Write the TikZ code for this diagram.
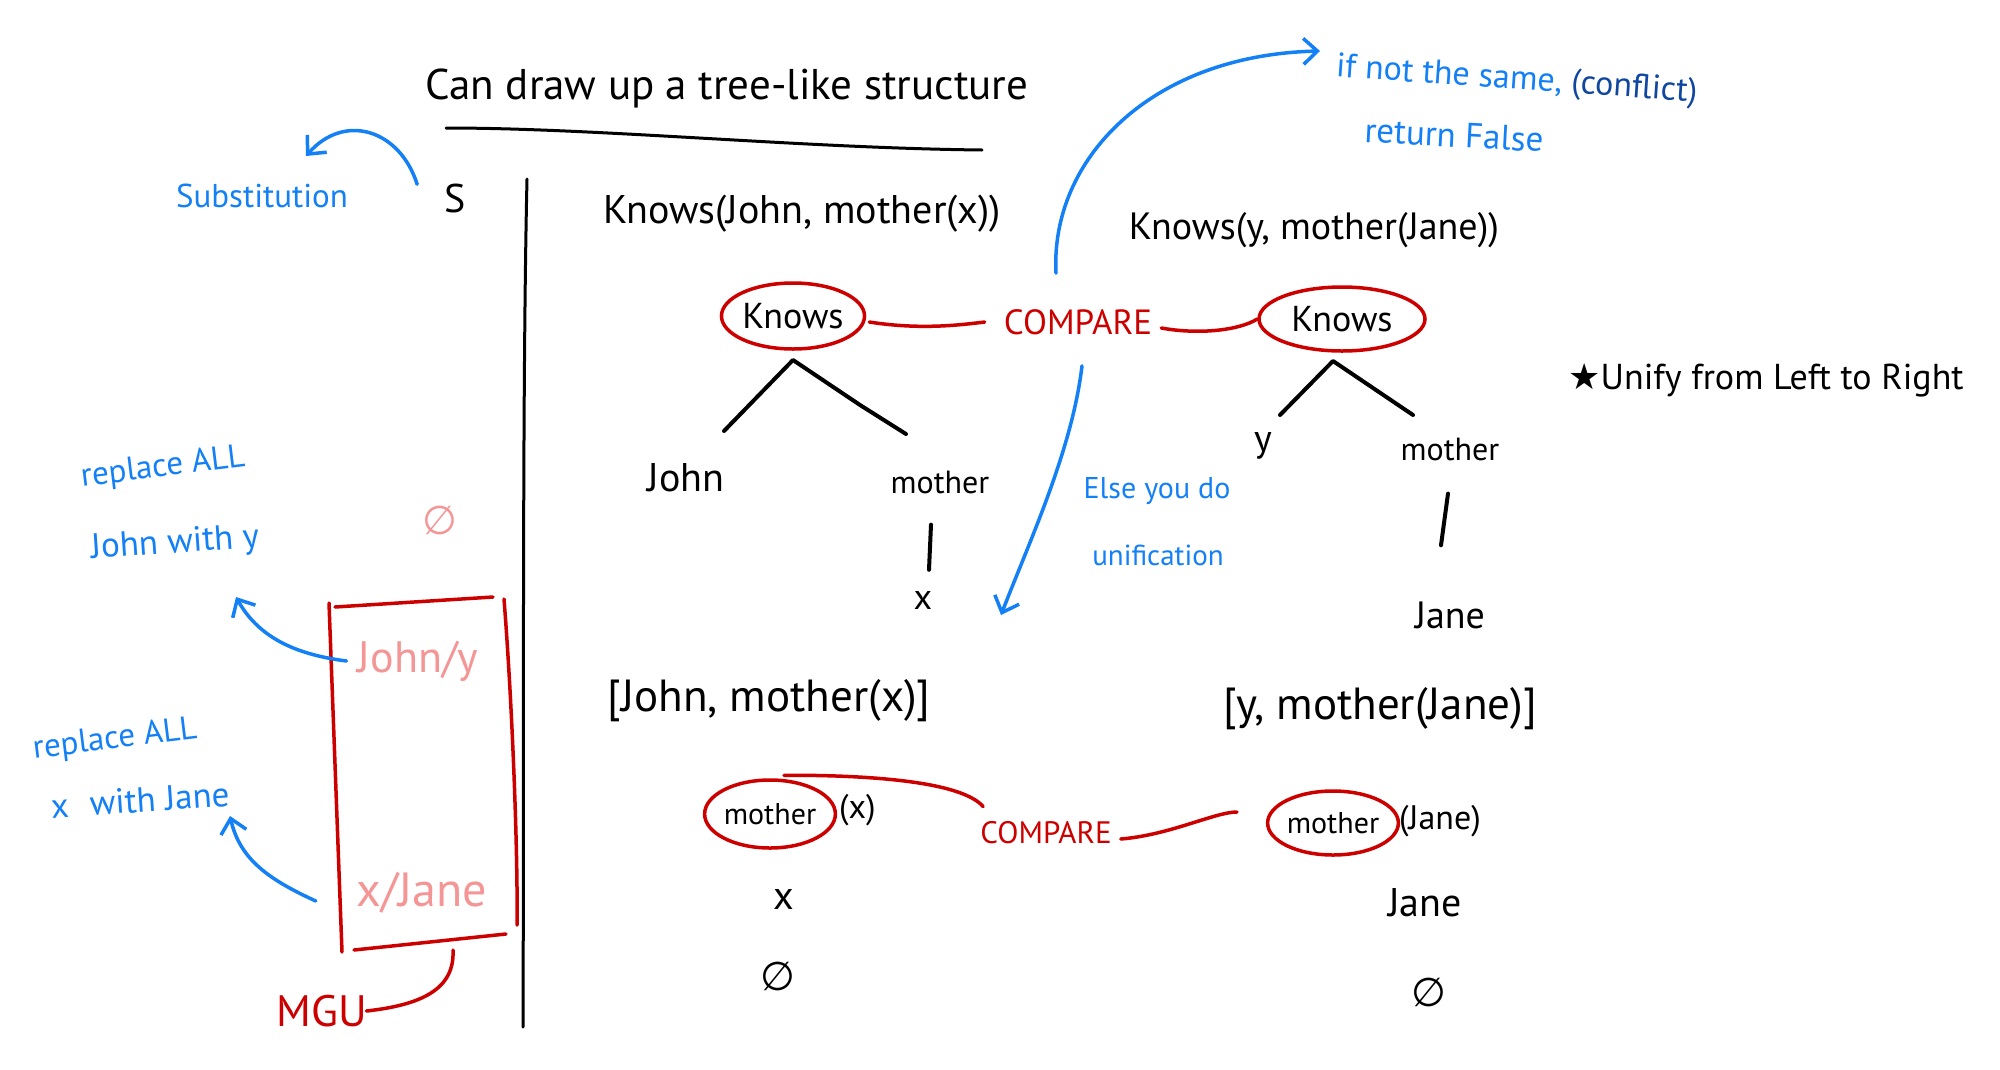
\documentclass[tikz,border=0pt]{standalone}
\usepackage{fontspec}
\setmainfont{PT Sans}
\newfontfamily\symfont{DejaVu Sans}
\usetikzlibrary{arrows.meta,shapes.geometric}
\newcommand\myfs[1]{\fontsize{#1}{#1}\selectfont}
\definecolor{myblue}{RGB}{20,128,245}
\definecolor{darkblue}{RGB}{15,70,160}
\definecolor{myred}{RGB}{205,0,0}
\definecolor{mypink}{RGB}{245,150,150}
\tikzset{
 lbl/.style={inner sep=1pt, text=black},
 bl/.style={lbl, text=myblue},
 rd/.style={lbl, text=myred},
 pk/.style={lbl, text=mypink},
 inkline/.style={draw=black, line width=4pt, line cap=round, line join=round},
 redline/.style={draw=myred, line width=3.5pt, line cap=round},
 bluearrow/.style={draw=myblue, line width=3.5pt, line cap=round, -{Straight Barb[length=14pt,width=26pt]}},
 redell/.style={ellipse, draw=myred, line width=3.5pt, inner sep=0pt},
}
\begin{document}
\begin{tikzpicture}[x=1pt,y=-1pt]
\fill[white] (0,0) rectangle (2000,1069);
\useasboundingbox (0,0) rectangle (2000,1069);

% title
\node[lbl, font=\myfs{43}] (title) at (727,88) {Can draw up a tree-like structure};
\coordinate (ul1) at (446,128);
\coordinate (ul2) at (982,150);
\draw[inkline, line width=3pt] (ul1) .. controls (600,128) and (800,148) .. (ul2);

% S and divider
\node[lbl, font=\myfs{40}] (S) at (455,198) {S};
\coordinate (d1) at (527,179);
\coordinate (d2) at (523,1027);
\draw[inkline, line width=3pt] (d1) .. controls (522,400) and (524,800) .. (d2);

\node[bl, font=\myfs{33}] (subst) at (262,196) {Substitution};
\coordinate (sa) at (306,156);
\draw[bluearrow] ([shift={(-26,2)}]S.north west) .. controls (400,130) and (345,112) .. (sa);

% expressions
\node[lbl, font=\myfs{40}] (exL) at (802,214) {Knows(John, mother(x))};
\node[lbl, font=\myfs{38}] (exR) at (1314,230) {Knows(y, mother(Jane))};

% conflict note
\node[bl, font=\myfs{34}, rotate=-4, anchor=west] (ifnot) at (1335,68) {if not the same, \textcolor{darkblue}{(conflict)}};
\node[bl, font=\myfs{35}, rotate=-3] (retf) at (1454,135) {return False};

% Knows compare
\node[redell, minimum width=140, minimum height=66, font=\myfs{36}] (kL) at (793,316) {Knows};
\node[rd, font=\myfs{35}] (cmp1) at (1078,322) {COMPARE};
\node[redell, minimum width=166, minimum height=64, font=\myfs{36}] (kR) at (1342,319) {Knows};
\draw[redline] ([shift={(3,6)}]kL.east) .. controls (920,330) and (960,325) .. ([xshift=-18]cmp1.west);
\draw[redline] ([shift={(8,6)}]cmp1.east) .. controls (1200,335) and (1240,330) .. (kR.west);

\coordinate (ifa) at (1320,51);
\draw[bluearrow] ([shift={(-22,-35)}]cmp1.north) .. controls (1050,160) and (1150,55) .. (ifa);

% left tree
\coordinate (apL) at (793,360);
\node[lbl, font=\myfs{40}] (john) at (686,478) {John};
\node[lbl, font=\myfs{32}] (motL) at (940,482) {mother};
\node[lbl, font=\myfs{36}] (xL) at (923,600) {x};
\coordinate (jt) at (724,431);
\coordinate (mt) at (906,434);
\draw[inkline] (jt) -- (apL) -- (860,405) -- (mt);
\draw[inkline] ([shift={(-9,30)}]motL.south) -- ([shift={(6,-20)}]xL.north);

% unification arrow
\node[bl, font=\myfs{30}] (else) at (1157,491) {Else you do};
\node[bl, font=\myfs{29}] (unif) at (1158,555) {unification};
\coordinate (ua) at (1001,615);
\draw[bluearrow] ([shift={(4,30)}]cmp1.south) .. controls (1072,450) and (1030,540) .. (ua);

% right tree
\coordinate (apR) at (1333,361);
\node[lbl, font=\myfs{38}] (yR) at (1263,446) {y};
\node[lbl, font=\myfs{32}] (motR) at (1450,449) {mother};
\node[lbl, font=\myfs{38}] (janeR) at (1450,615) {Jane};
\coordinate (yt) at (1280,415);
\coordinate (mrt) at (1413,415);
\draw[inkline] (yt) -- (apR) -- (mrt);
\draw[inkline] ([shift={(-2,32)}]motR.south) -- ([shift={(-9,-55)}]janeR.north);

% note
\node[lbl, font=\myfs{36}] (unify) at (1766,380) {{\symfont ★}Unify from Left to Right};

% lists
\node[lbl, font=\myfs{45}] (lstL) at (769,701) {[John, mother(x)]};
\node[lbl, font=\myfs{45}] (lstR) at (1380,709) {[y, mother(Jane)]};

% mother compare
\node[redell, minimum width=108, minimum height=68, font=\myfs{30}] (mL) at (770,814) {mother};
\node[lbl, font=\myfs{34}, anchor=west] (argL) at (838,810) {(x)};
\node[rd, font=\myfs{31}] (cmp2) at (1046,833) {COMPARE};
\node[redell, minimum width=114, minimum height=64, font=\myfs{30}] (mR) at (1333,823) {mother};
\node[lbl, font=\myfs{34}, anchor=west] (argR) at (1398,821) {(Jane)};
\draw[redline] ([shift={(14,-3)}]mL.north) .. controls (860,775) and (960,780) .. ([shift={(4,-14)}]cmp2.north west);
\coordinate (cr) at (1237,812);
\draw[redline] ([shift={(8,6)}]cmp2.east) .. controls (1170,835) and (1215,812) .. (cr);

\node[lbl, font=\myfs{40}] (xB) at (784,899) {x};
\node[lbl, font=\myfs{40}] (janeB) at (1425,903) {Jane};
\node[lbl, font=\myfs{40}] (eL) at (778,976) {{\symfont ∅}};
\node[lbl, font=\myfs{40}] (eR) at (1429,992) {{\symfont ∅}};

% substitution box
\node[pk, font=\myfs{40}] (epk) at (440,520) {{\symfont ∅}};
\node[pk, font=\myfs{44}] (johny) at (418,661) {John/y};
\node[pk, font=\myfs{48}] (xjane) at (422,893) {x/Jane};
\coordinate (b1) at (329,603);
\coordinate (b2) at (342,952);
\coordinate (b3) at (335,607);
\coordinate (b4) at (493,597);
\coordinate (b5) at (504,599);
\coordinate (b6) at (517,925);
\coordinate (b7) at (354,950);
\coordinate (b8) at (506,934);
\draw[redline] (b1) -- (b2);
\draw[redline] (b3) -- (b4);
\draw[redline] (b5) .. controls (512,700) and (518,850) .. (b6);
\draw[redline] (b7) -- (b8);

\node[rd, font=\myfs{44}] (mgu) at (322,1011) {MGU};
\coordinate (mb) at (453,950);
\draw[redline] ([shift={(-2,0)}]mgu.east) .. controls (420,1005) and (455,990) .. (mb);

% replace notes
\node[bl, font=\myfs{33}, rotate=7] (rep1a) at (163,468) {replace ALL};
\node[bl, font=\myfs{35}, rotate=4] (rep1b) at (175,544) {John with y};
\node[bl, font=\myfs{33}, rotate=7] (rep2a) at (115,740) {replace ALL};
\node[bl, font=\myfs{35}, rotate=4] (rep2b) at (140,800) {x\,\, with Jane};
\coordinate (r1) at (236,597);
\coordinate (r2) at (230,816);
\draw[bluearrow] ([xshift=-10]johny.west) .. controls (300,655) and (260,640) .. (r1);
\draw[bluearrow] ([shift={(-40,8)}]xjane.west) .. controls (270,880) and (240,860) .. (r2);
\end{tikzpicture}
\end{document}
